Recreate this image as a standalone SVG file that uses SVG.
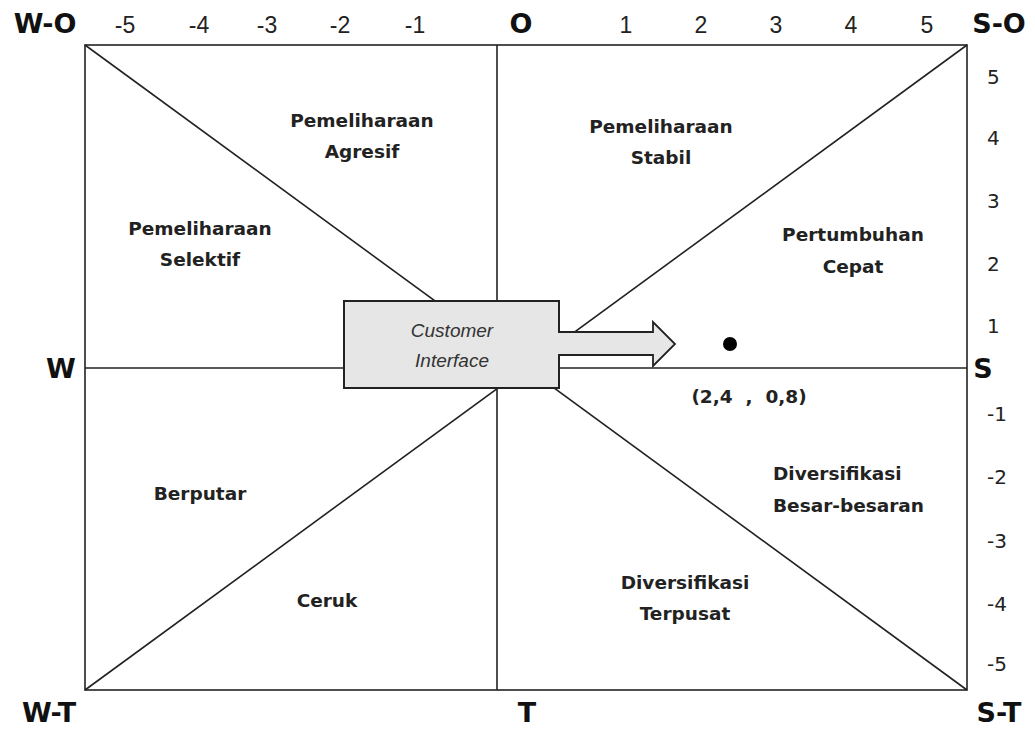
<svg xmlns="http://www.w3.org/2000/svg" width="1035" height="729" viewBox="0 0 1035 729">
<style>
.ax{font-family:"DejaVu Sans",sans-serif;font-weight:bold;font-size:27px;fill:#111;text-anchor:middle}
.tn{font-family:"Liberation Sans",Arial,sans-serif;font-size:23px;fill:#222;text-anchor:middle}
.rn{font-family:"DejaVu Sans",sans-serif;font-size:20px;fill:#222}
.lb{font-family:"DejaVu Sans",sans-serif;font-weight:bold;font-size:18.5px;fill:#222;text-anchor:middle}
.ls{text-anchor:start}
.ci{font-family:"Liberation Sans",Arial,sans-serif;font-style:italic;font-size:19px;fill:#333;text-anchor:middle}
.ln{stroke:#222;stroke-width:1.6;fill:none}
</style>
<rect width="1035" height="729" fill="#fff"/>
<g id="connectors">
<rect x="85" y="45" width="882" height="645" class="ln" stroke-width="2"/>
<line x1="497" y1="45" x2="497" y2="690" class="ln"/>
<line x1="85" y1="368" x2="967" y2="368" class="ln"/>
<line x1="85" y1="45" x2="967" y2="690" class="ln"/>
<line x1="85" y1="690" x2="967" y2="45" class="ln"/>
</g>
<g id="axis-labels">
<text class="ax" x="45" y="33">W-O</text>
<text class="ax" x="521" y="33">O</text>
<text class="ax" x="999" y="33">S-O</text>
<text class="ax" x="61" y="378">W</text>
<text class="ax" x="983" y="378">S</text>
<text class="ax" x="49" y="722">W-T</text>
<text class="ax" x="527" y="722">T</text>
<text class="ax" x="999" y="722">S-T</text>
</g>
<g id="top-ticks">
<text class="tn" x="125" y="33">-5</text>
<text class="tn" x="199" y="33">-4</text>
<text class="tn" x="267" y="33">-3</text>
<text class="tn" x="340" y="33">-2</text>
<text class="tn" x="415" y="33">-1</text>
<text class="tn" x="626" y="33">1</text>
<text class="tn" x="701" y="33">2</text>
<text class="tn" x="776" y="33">3</text>
<text class="tn" x="851" y="33">4</text>
<text class="tn" x="927" y="33">5</text>
</g>
<g id="right-ticks">
<text class="rn" x="987" y="84">5</text>
<text class="rn" x="987" y="145">4</text>
<text class="rn" x="987" y="208">3</text>
<text class="rn" x="987" y="271">2</text>
<text class="rn" x="987" y="333">1</text>
<text class="rn" x="987" y="421">-1</text>
<text class="rn" x="987" y="484">-2</text>
<text class="rn" x="987" y="548">-3</text>
<text class="rn" x="987" y="611">-4</text>
<text class="rn" x="987" y="671">-5</text>
</g>
<g id="agresif"><text class="lb" x="362" y="127">Pemeliharaan</text><text class="lb" x="362" y="158">Agresif</text></g>
<g id="stabil"><text class="lb" x="661" y="133">Pemeliharaan</text><text class="lb" x="661" y="164">Stabil</text></g>
<g id="selektif"><text class="lb" x="200" y="235">Pemeliharaan</text><text class="lb" x="200" y="266">Selektif</text></g>
<g id="cepat"><text class="lb" x="853" y="241">Pertumbuhan</text><text class="lb" x="853" y="273">Cepat</text></g>
<g id="berputar"><text class="lb" x="200" y="500">Berputar</text></g>
<g id="ceruk"><text class="lb" x="327" y="607">Ceruk</text></g>
<g id="terpusat"><text class="lb" x="685" y="589">Diversifikasi</text><text class="lb" x="685" y="620">Terpusat</text></g>
<g id="besar"><text class="lb ls" x="773" y="480">Diversifikasi</text><text class="lb ls" x="773" y="512">Besar-besaran</text></g>
<g id="point">
<circle cx="730" cy="344" r="7" fill="#000"/>
<text class="lb" x="749" y="403" style="white-space:pre">(2,4  ,  0,8)</text>
</g>
<g id="customer-interface">
<path d="M559,332 H653 V322 L675,344 L653,366 V355 H559 Z" fill="#e6e6e6" stroke="#222" stroke-width="1.8"/>
<rect x="344" y="301" width="215" height="87" fill="#e6e6e6" stroke="#222" stroke-width="2"/>
<line x1="559" y1="333" x2="559" y2="354" stroke="#e6e6e6" stroke-width="2.5"/>
<text class="ci" x="452" y="337">Customer</text>
<text class="ci" x="452" y="367">Interface</text>
</g>
</svg>
